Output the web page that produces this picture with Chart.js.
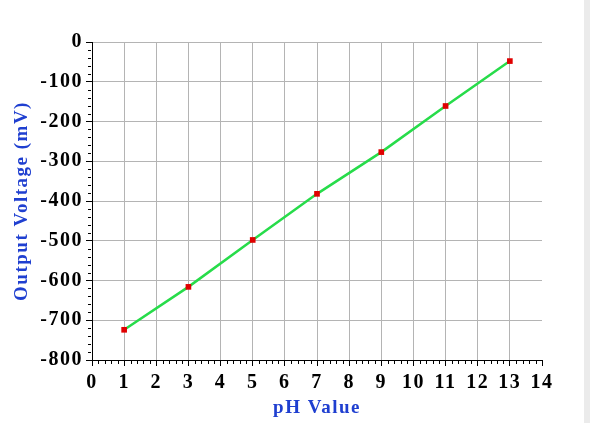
<!DOCTYPE html>
<html>
<head>
<meta charset="utf-8">
<script src="https://cdn.jsdelivr.net/npm/chart.js@4"></script>
<style>
  html, body { margin: 0; padding: 0; background: #fff; }
  #wrap { position: relative; width: 590px; height: 423px; }
  #edge { position: absolute; right: 0; top: 0; width: 6px; height: 423px; background: #ebebeb; }
</style>
</head>
<body>
<div id="wrap">
  <canvas id="myChart" width="590" height="423"></canvas>
  <div id="edge"></div>
</div>
<script>
let phValues = [1, 3, 5, 7, 9, 11, 13];
let voltages = [-724, -616, -498, -382, -277, -161, -48];
let xTitle = 'pH Value';
let yTitle = 'Output Voltage (mV)';

const blue = '#1f3fd0';
const gridGray = '#b4b4b4';

// the original text is a bit wide, spread the letters a little
// (canvas resize wipes ctx state, so set it again before layout and draw)
const wideText = {
  id: 'wideText',
  beforeUpdate(chart) { chart.ctx.letterSpacing = '1.5px'; },
  beforeDraw(chart) { chart.ctx.letterSpacing = '1.5px'; }
};

// small ticks between the labelled ones
const minorTicks = {
  id: 'minorTicks',
  afterDraw(chart) {
    const ctx = chart.ctx;
    const x = chart.scales.x, y = chart.scales.y;
    ctx.save();
    ctx.strokeStyle = '#000';
    ctx.lineWidth = 1;
    ctx.beginPath();
    for (let v = -800; v <= 0; v += 20) {
      if (v % 100 === 0) continue;
      const py = Math.round(y.getPixelForValue(v)) + 0.5;
      ctx.moveTo(x.left - 4, py);
      ctx.lineTo(x.left - 1, py);
    }
    for (let i = 0; i <= 70; i++) {
      if (i % 5 === 0) continue;
      const px = Math.round(x.getPixelForValue(i / 5)) + 0.5;
      ctx.moveTo(px, y.bottom + 1);
      ctx.lineTo(px, y.bottom + 4);
    }
    ctx.stroke();
    ctx.restore();
  }
};

function renderChart() {
  const data = {
    datasets: [{
      label: 'Output',
      data: phValues.map((p, i) => ({ x: p, y: voltages[i] })),
      borderColor: '#27dc4a',
      borderWidth: 2.5,
      pointStyle: 'rect',
      pointRadius: 4,
      pointBackgroundColor: '#e00000',
      pointBorderColor: '#e00000',
      pointBorderWidth: 0,
      tension: 0,
      fill: false
    }]
  };

  const tickFont = { family: 'Liberation Serif', size: 20, weight: 'bold' };
  const titleFont = { family: 'Liberation Serif', size: 19, weight: 'bold' };

  const options = {
    responsive: false,
    animation: false,
    layout: { padding: { top: 42, right: 48, left: 0, bottom: 0 } },
    plugins: { legend: { display: false }, tooltip: { enabled: false } },
    scales: {
      x: {
        type: 'linear',
        min: 0,
        max: 14,
        ticks: { stepSize: 1, color: '#000', font: tickFont, padding: 5 },
        grid: {
          color: c => (c.tick && (c.tick.value === 0 || c.tick.value === 14)) ? 'rgba(0,0,0,0)' : gridGray,
          tickColor: '#000',
          tickLength: 6
        },
        border: { color: '#000', width: 1 },
        title: { display: true, text: xTitle, color: blue, font: titleFont, padding: { top: 0 } },
        afterFit: s => { s.height = 63; }
      },
      y: {
        min: -800,
        max: 0,
        ticks: { stepSize: 100, color: '#000', font: tickFont, padding: 3 },
        grid: {
          color: c => (c.tick && c.tick.value === -800) ? 'rgba(0,0,0,0)' : gridGray,
          tickColor: '#000',
          tickLength: 6
        },
        border: { color: '#000', width: 1 },
        title: { display: true, text: yTitle, color: blue, font: titleFont, padding: { top: 11, bottom: 0 } },
        afterFit: s => { s.width = 92; }
      }
    }
  };

  const ctx = document.getElementById('myChart').getContext('2d');
  new Chart(ctx, { type: 'line', data: data, options: options, plugins: [wideText, minorTicks] });
}

renderChart();
</script>
</body>
</html>
